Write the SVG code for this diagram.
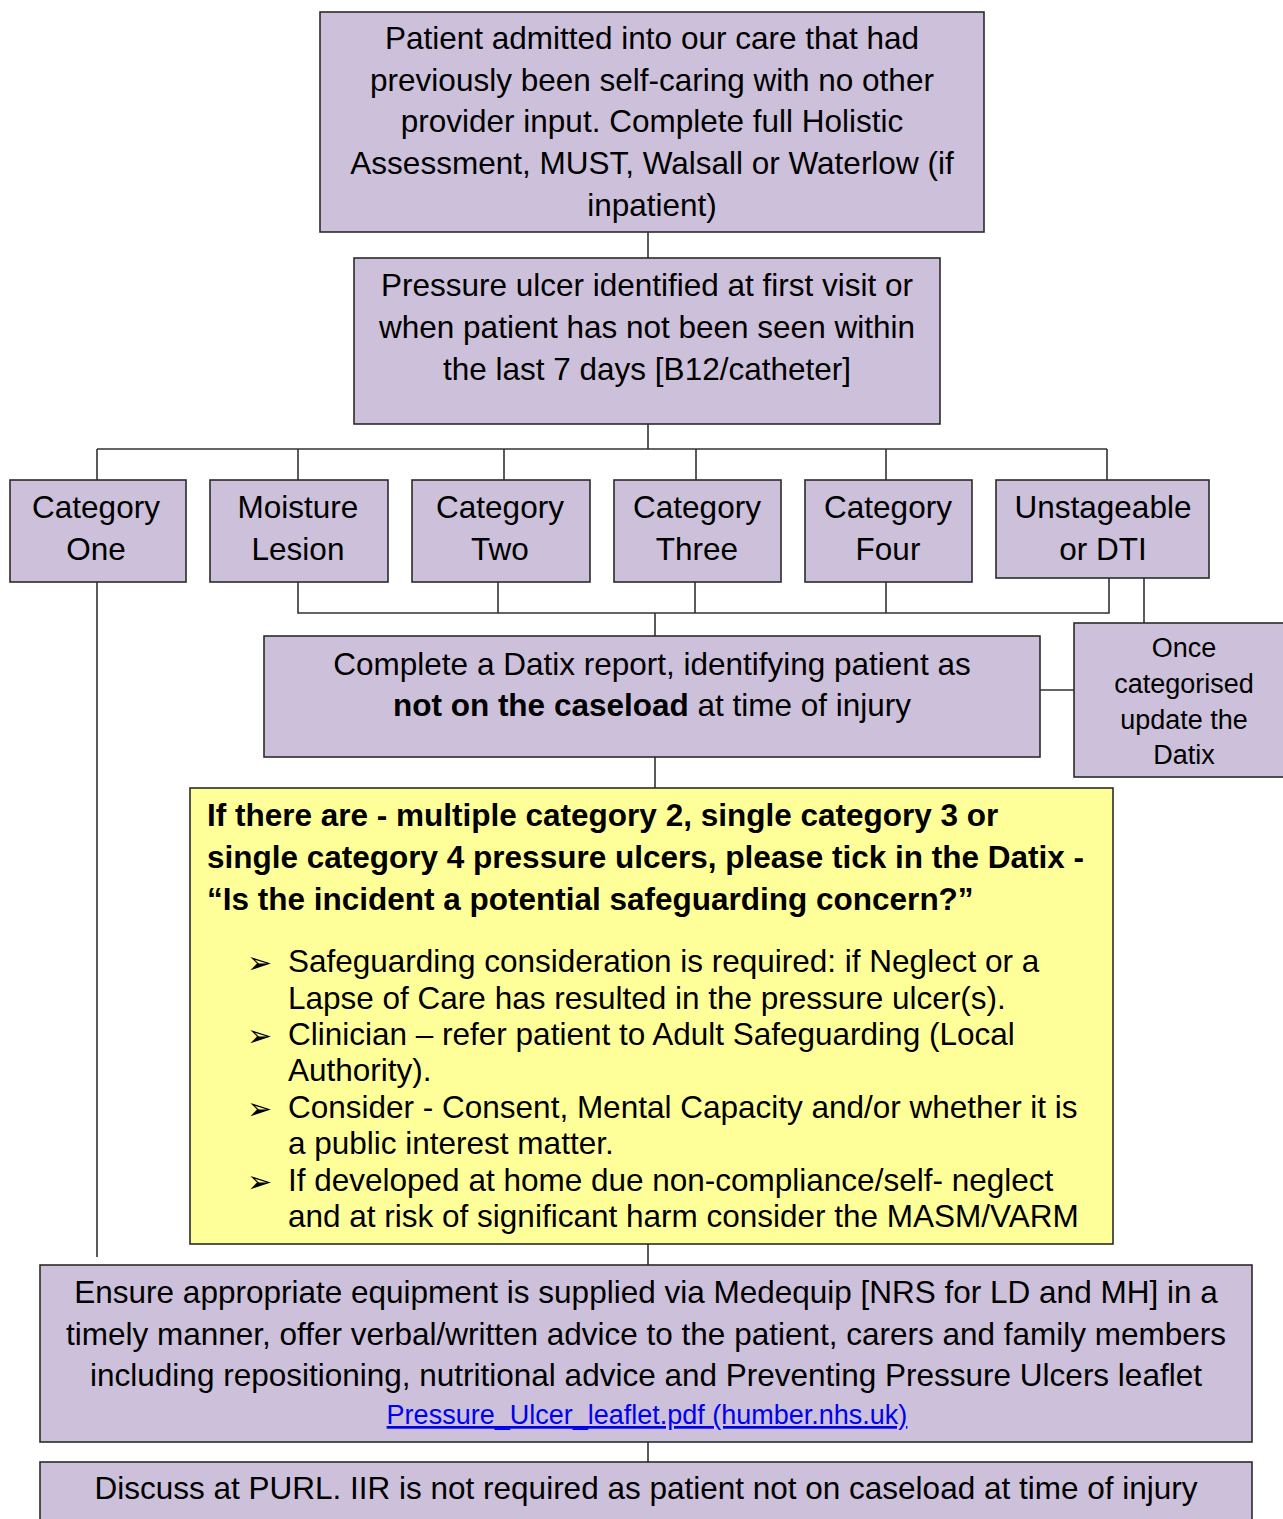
<svg xmlns="http://www.w3.org/2000/svg" width="1283" height="1519" viewBox="0 0 1283 1519">
<style>
.box{fill:#ccc0da;stroke:#2b2b2b;stroke-width:1.6}
.yel{fill:#ffff99;stroke:#2b2b2b;stroke-width:1.6}
.t{font-family:"Liberation Sans",Arial,sans-serif;font-size:31.5px;fill:#000;text-anchor:middle}
.s{font-family:"Liberation Sans",Arial,sans-serif;font-size:27px;fill:#000;text-anchor:middle}
.b{font-family:"Liberation Sans",Arial,sans-serif;font-size:31.5px;font-weight:bold;fill:#000}
.l{font-family:"Liberation Sans",Arial,sans-serif;font-size:31.5px;fill:#000}
.bul{font-family:"DejaVu Sans",sans-serif;font-size:30px;fill:#000}
.lnk{font-family:"Liberation Sans",Arial,sans-serif;font-size:27px;fill:#0000ee;text-decoration:underline;text-anchor:middle}
.c{fill:none;stroke:#333;stroke-width:1.6}
</style>
<rect width="1283" height="1519" fill="#fff"/>
<g id="connectors">
<path class="c" d="M648 232V258M648 424V449M97 449H1107M97 449V480M298 449V480M504 449V480M696 449V480M886 449V480M1107 449V480"/>
<path class="c" d="M298 582V613H1109V578M498 582V613M695 582V613M886 582V613M1144 578V623M655 613V636"/>
<path class="c" d="M1040 690H1074M655 757V788M97 582V1257M648 1244V1265M648 1442V1462"/>
</g>
<g id="n1">
<rect class="box" x="320" y="12" width="664" height="220"/>
<text class="t"><tspan x="652" y="49">Patient admitted into our care that had</tspan><tspan x="652" y="91">previously been self-caring with no other</tspan><tspan x="652" y="132">provider input. Complete full Holistic</tspan><tspan x="652" y="174">Assessment, MUST, Walsall or Waterlow (if</tspan><tspan x="652" y="216">inpatient)</tspan></text>
</g>
<g id="n2">
<rect class="box" x="354" y="258" width="586" height="166"/>
<text class="t"><tspan x="647" y="296">Pressure ulcer identified at first visit or</tspan><tspan x="647" y="338">when patient has not been seen within</tspan><tspan x="647" y="380">the last 7 days [B12/catheter]</tspan></text>
</g>
<g id="cat1">
<rect class="box" x="10" y="480" width="176" height="102"/>
<text class="t"><tspan x="96" y="518">Category</tspan><tspan x="96" y="560">One</tspan></text>
</g>
<g id="moist">
<rect class="box" x="210" y="480" width="178" height="102"/>
<text class="t"><tspan x="298" y="518">Moisture</tspan><tspan x="298" y="560">Lesion</tspan></text>
</g>
<g id="cat2">
<rect class="box" x="412" y="480" width="178" height="102"/>
<text class="t"><tspan x="500" y="518">Category</tspan><tspan x="500" y="560">Two</tspan></text>
</g>
<g id="cat3">
<rect class="box" x="614" y="480" width="167" height="102"/>
<text class="t"><tspan x="697" y="518">Category</tspan><tspan x="697" y="560">Three</tspan></text>
</g>
<g id="cat4">
<rect class="box" x="805" y="480" width="167" height="102"/>
<text class="t"><tspan x="888" y="518">Category</tspan><tspan x="888" y="560">Four</tspan></text>
</g>
<g id="unst">
<rect class="box" x="996" y="480" width="213" height="98"/>
<text class="t"><tspan x="1103" y="518">Unstageable</tspan><tspan x="1103" y="560">or DTI</tspan></text>
</g>
<g id="datix">
<rect class="box" x="264" y="636" width="776" height="121"/>
<text class="t"><tspan x="652" y="675">Complete a Datix report, identifying patient as</tspan><tspan x="652" y="716"><tspan font-weight="bold">not on the caseload</tspan> at time of injury</tspan></text>
</g>
<g id="once">
<rect class="box" x="1074" y="623" width="215" height="154"/>
<text class="s"><tspan x="1184" y="657">Once</tspan><tspan x="1184" y="693">categorised</tspan><tspan x="1184" y="729">update the</tspan><tspan x="1184" y="764">Datix</tspan></text>
</g>
<g id="safeguard">
<rect class="yel" x="190" y="788" width="923" height="456"/>
<text class="b"><tspan x="207" y="826">If there are - multiple category 2, single category 3 or</tspan><tspan x="207" y="868">single category 4 pressure ulcers, please tick in the Datix -</tspan><tspan x="207" y="910">“Is the incident a potential safeguarding concern?”</tspan></text>
<text class="bul"><tspan x="247" y="973">➢</tspan><tspan x="247" y="1046">➢</tspan><tspan x="247" y="1119">➢</tspan><tspan x="247" y="1192">➢</tspan></text>
<text class="l"><tspan x="288" y="972">Safeguarding consideration is required: if Neglect or a</tspan><tspan x="288" y="1009">Lapse of Care has resulted in the pressure ulcer(s).</tspan><tspan x="288" y="1045">Clinician – refer patient to Adult Safeguarding (Local</tspan><tspan x="288" y="1081">Authority).</tspan><tspan x="288" y="1118">Consider - Consent, Mental Capacity and/or whether it is</tspan><tspan x="288" y="1154">a public interest matter.</tspan><tspan x="288" y="1191">If developed at home due non-compliance/self- neglect</tspan><tspan x="288" y="1227">and at risk of significant harm consider the MASM/VARM</tspan></text>
</g>
<g id="equip">
<rect class="box" x="40" y="1265" width="1212" height="177"/>
<text class="t"><tspan x="646" y="1303">Ensure appropriate equipment is supplied via Medequip [NRS for LD and MH] in a</tspan><tspan x="646" y="1345">timely manner, offer verbal/written advice to the patient, carers and family members</tspan><tspan x="646" y="1386">including repositioning, nutritional advice and Preventing Pressure Ulcers leaflet</tspan></text>
<text class="lnk" x="647" y="1424">Pressure_Ulcer_leaflet.pdf (humber.nhs.uk)</text>
</g>
<g id="purl">
<rect class="box" x="40" y="1462" width="1212" height="70"/>
<text class="t" x="646" y="1499">Discuss at PURL. IIR is not required as patient not on caseload at time of injury</text>
</g>
</svg>
